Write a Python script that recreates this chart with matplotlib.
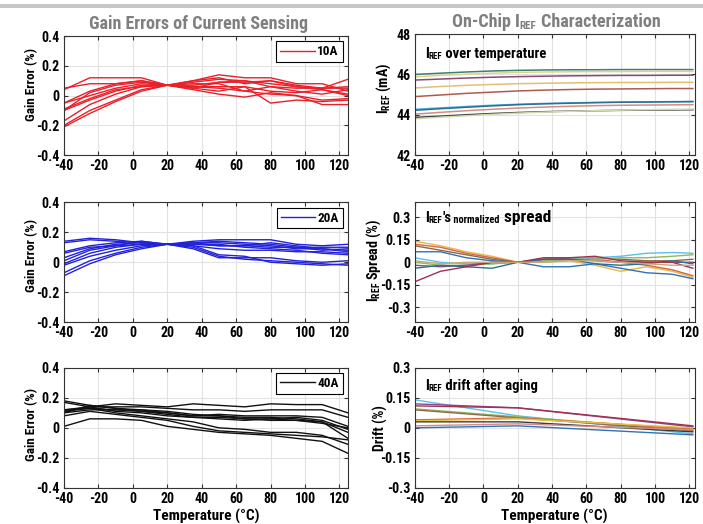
import numpy as np
import matplotlib
matplotlib.use("Agg")
import matplotlib.pyplot as plt
from matplotlib.patches import Rectangle
from matplotlib import font_manager as fm


def pick_font():
    # look for a narrow face first, the reference uses a condensed sans
    for name in ["Liberation Sans Narrow", "Arial Narrow", "Roboto Condensed",
                 "Open Sans Condensed", "Noto Sans Condensed"]:
        try:
            fm.findfont(fm.FontProperties(family=name), fallback_to_default=False)
            return name, "normal", 1.0
        except ValueError:
            pass
    for name in ["DejaVu Sans", "Noto Sans", "Open Sans", "Roboto"]:
        try:
            path = fm.findfont(fm.FontProperties(family=name, stretch="condensed",
                                                 weight="bold"),
                               fallback_to_default=False)
        except ValueError:
            continue
        if "ondensed" in path:
            return name, "condensed", 1.0
    return "Liberation Sans", "normal", 0.86


FONT, STRETCH, SCALE = pick_font()
plt.rcParams["font.family"] = [FONT, "DejaVu Sans"]
plt.rcParams["font.stretch"] = STRETCH
plt.rcParams["font.weight"] = "bold"
plt.rcParams["axes.labelweight"] = "bold"


def fs(size):
    return size * SCALE


#DATA
temp_left = [-40, -25, -10, 5, 20, 35, 50, 65, 80, 95, 110, 125]
temp_right = [-40, -25, -10, 5, 20, 35, 50, 65, 80, 95, 110, 122]
temp_drift = [-40, 20, 122]

gain_10a = [
    [0.04, 0.12, 0.12, 0.12, 0.07, 0.10, 0.14, 0.12, 0.12, 0.08, 0.08, 0.03],
    [0.05, 0.08, 0.08, 0.10, 0.07, 0.09, 0.11, 0.10, 0.08, 0.06, 0.05, 0.05],
    [-0.05, 0.03, 0.08, 0.10, 0.07, 0.07, 0.09, 0.09, 0.10, 0.07, 0.05, 0.11],
    [-0.10, 0.02, 0.07, 0.09, 0.07, 0.05, 0.03, 0.06, 0.03, 0.02, 0.04, 0.01],
    [-0.10, -0.03, 0.03, 0.07, 0.07, 0.04, 0.01, -0.01, 0.02, 0.00, -0.03, -0.02],
    [-0.05, 0.00, 0.05, 0.08, 0.07, 0.06, 0.06, 0.06, -0.05, -0.03, -0.04, -0.03],
    [-0.17, -0.06, 0.01, 0.06, 0.07, 0.08, 0.08, 0.03, 0.01, 0.00, -0.06, -0.06],
    [-0.20, -0.10, -0.03, 0.04, 0.07, 0.10, 0.12, 0.08, 0.10, 0.06, 0.04, 0.00],
    [-0.21, -0.12, -0.04, 0.03, 0.07, 0.05, 0.09, 0.10, 0.06, 0.05, 0.05, 0.06],
    [-0.09, -0.02, 0.04, 0.06, 0.07, 0.06, 0.05, 0.03, 0.06, 0.03, 0.01, 0.04],
]
gain_20a = [
    [0.14, 0.16, 0.15, 0.13, 0.12, 0.14, 0.15, 0.15, 0.15, 0.12, 0.11, 0.12],
    [0.13, 0.15, 0.14, 0.13, 0.12, 0.13, 0.14, 0.13, 0.12, 0.10, 0.10, 0.10],
    [0.07, 0.11, 0.13, 0.14, 0.12, 0.13, 0.11, 0.11, 0.13, 0.11, 0.09, 0.07],
    [0.03, 0.09, 0.12, 0.13, 0.12, 0.12, 0.12, 0.10, 0.09, 0.08, 0.06, 0.05],
    [-0.01, 0.06, 0.10, 0.12, 0.12, 0.11, 0.09, 0.08, 0.08, 0.07, 0.07, 0.06],
    [-0.02, 0.04, 0.08, 0.11, 0.12, 0.10, 0.04, 0.02, 0.01, 0.00, -0.01, -0.02],
    [-0.07, 0.01, 0.06, 0.10, 0.12, 0.09, 0.03, 0.03, 0.03, 0.01, 0.00, 0.01],
    [-0.09, -0.01, 0.05, 0.09, 0.12, 0.11, 0.05, 0.04, 0.00, -0.01, -0.02, -0.01],
    [0.06, 0.10, 0.11, 0.14, 0.12, 0.13, 0.13, 0.12, 0.11, 0.09, 0.09, 0.08],
    [0.01, 0.08, 0.11, 0.12, 0.12, 0.12, 0.11, 0.11, 0.10, 0.10, 0.08, 0.09],
]
gain_40a = [
    [0.11, 0.14, 0.16, 0.15, 0.14, 0.16, 0.15, 0.14, 0.16, 0.155, 0.155, 0.10],
    [0.12, 0.14, 0.14, 0.14, 0.13, 0.12, 0.12, 0.11, 0.12, 0.12, 0.12, 0.07],
    [0.18, 0.15, 0.13, 0.12, 0.10, 0.08, 0.09, 0.08, 0.08, 0.08, 0.07, 0.01],
    [0.17, 0.14, 0.11, 0.10, 0.08, 0.07, 0.07, 0.06, 0.06, 0.07, 0.05, -0.01],
    [0.10, 0.12, 0.12, 0.11, 0.09, 0.07, 0.06, 0.05, 0.06, 0.05, 0.04, -0.03],
    [0.08, 0.11, 0.09, 0.07, 0.05, 0.01, -0.02, -0.03, -0.04, -0.05, -0.06, -0.08],
    [0.01, 0.06, 0.06, 0.05, 0.01, -0.01, -0.03, -0.04, -0.05, -0.07, -0.09, -0.17],
    [0.12, 0.13, 0.10, 0.08, 0.06, 0.04, 0.00, -0.01, -0.03, -0.03, -0.05, -0.11],
    [0.10, 0.15, 0.13, 0.11, 0.10, 0.08, 0.08, 0.07, 0.07, 0.06, 0.04, -0.07],
    [0.11, 0.13, 0.12, 0.12, 0.11, 0.09, 0.08, 0.06, 0.05, 0.05, 0.03, 0.00],
]

iref_ma = [
    [46.00, 46.06, 46.12, 46.17, 46.20, 46.22, 46.23, 46.23, 46.24, 46.24, 46.24, 46.24],
    [45.88, 45.95, 46.01, 46.06, 46.10, 46.12, 46.13, 46.14, 46.14, 46.15, 46.15, 46.15],
    [45.72, 45.77, 45.82, 45.86, 45.89, 45.91, 45.93, 45.94, 45.95, 45.95, 45.96, 45.96],
    [45.33, 45.40, 45.46, 45.50, 45.54, 45.56, 45.58, 45.59, 45.60, 45.60, 45.61, 45.61],
    [44.90, 44.98, 45.06, 45.12, 45.18, 45.22, 45.25, 45.27, 45.28, 45.29, 45.30, 45.30],
    [44.27, 44.34, 44.41, 44.47, 44.52, 44.56, 44.59, 44.61, 44.63, 44.64, 44.65, 44.66],
    [44.22, 44.30, 44.37, 44.44, 44.50, 44.54, 44.57, 44.60, 44.62, 44.63, 44.64, 44.65],
    [44.03, 44.12, 44.20, 44.27, 44.33, 44.38, 44.42, 44.45, 44.47, 44.48, 44.49, 44.50],
    [43.87, 43.93, 44.00, 44.06, 44.11, 44.15, 44.18, 44.20, 44.22, 44.23, 44.24, 44.25],
    [43.80, 43.88, 43.95, 44.02, 44.08, 44.13, 44.17, 44.20, 44.23, 44.25, 44.27, 44.28],
]
iref_colors = ["#3f7f6f", "#d6d690", "#8a4a78", "#e2c070", "#b05a4e",
               "#4db4dc", "#2a6f8f", "#d88a84", "#3c3c3c", "#cfdcae"]

spread_pct = [
    [0.14, 0.11, 0.07, 0.04, 0.0, 0.00, 0.01, -0.02, -0.06, -0.03, -0.06, -0.10],
    [0.12, 0.10, 0.06, 0.03, 0.0, 0.02, 0.03, 0.02, 0.00, -0.02, -0.05, -0.09],
    [0.11, 0.08, 0.05, 0.02, 0.0, 0.01, 0.02, 0.03, 0.02, 0.01, 0.01, 0.02],
    [0.07, 0.07, 0.03, 0.01, 0.0, -0.03, -0.03, -0.01, -0.04, -0.07, -0.08, -0.11],
    [0.03, 0.00, -0.01, -0.01, 0.0, 0.01, 0.02, 0.03, 0.04, 0.06, 0.065, 0.06],
    [0.00, -0.02, -0.02, -0.01, 0.0, 0.01, 0.02, 0.02, 0.03, 0.03, 0.04, 0.05],
    [-0.02, -0.03, -0.02, 0.00, 0.0, 0.02, 0.02, 0.01, 0.00, 0.00, 0.00, 0.00],
    [-0.04, -0.02, -0.03, -0.04, 0.0, 0.02, 0.02, -0.01, -0.02, -0.01, 0.01, -0.01],
    [-0.13, -0.06, -0.03, 0.00, 0.0, 0.03, 0.03, 0.04, 0.01, 0.00, 0.00, -0.04],
    [0.01, -0.01, 0.00, 0.00, 0.0, 0.00, 0.01, 0.01, 0.00, -0.01, -0.02, -0.02],
]
spread_colors = ["#e8b84a", "#d9663a", "#8c6a48", "#2f72b8", "#5cc0e8",
                 "#8fb860", "#8a4a90", "#2a6f8f", "#a23050", "#c8a878"]

drift_pct = [
    [0.14, 0.06, -0.03],
    [0.12, 0.10, 0.005],
    [0.11, 0.10, 0.01],
    [0.095, 0.055, -0.01],
    [0.09, 0.05, -0.015],
    [0.04, 0.05, -0.005],
    [0.035, 0.045, 0.0],
    [0.03, 0.03, -0.02],
    [0.01, 0.02, -0.01],
    [0.0, 0.01, -0.035],
]
drift_colors = ["#5cc0e8", "#8a4a90", "#a23050", "#8fb860", "#8c6a48",
                "#d9663a", "#e8c040", "#3c3c3c", "#d88a84", "#2f72b8"]

x_ticks = [-40, -20, 0, 20, 40, 60, 80, 100, 120]
gain_ticks = [-0.4, -0.2, 0, 0.2, 0.4]
gain_labels = ["-0.4", "-0.2", "0", "0.2", "0.4"]

#FUNCTIONS
def style_axes(ax, xmax):
    ax.set_xlim(-40, xmax)
    ax.set_xticks(x_ticks)
    ax.set_xticklabels([str(t) for t in x_ticks])
    ax.grid(True, color="#e2e2e2", linewidth=0.8)
    ax.set_axisbelow(True)
    ax.tick_params(direction="in", top=True, right=True, length=3,
                   labelsize=fs(10), color="#333333", pad=3)
    for sp in ax.spines.values():
        sp.set_color("#333333")
        sp.set_linewidth(0.8)


def chain_text(ax, x, y, pieces, color="black", transform=None):
    first_s, first_size = pieces[0]
    prev = ax.text(x, y, first_s, transform=transform or ax.transAxes,
                   fontsize=fs(first_size), fontweight="bold", ha="left",
                   va="bottom", color=color)
    for s, size in pieces[1:]:
        prev = ax.annotate(s, xy=(1, 0), xycoords=prev, fontsize=fs(size),
                           fontweight="bold", ha="left", va="bottom",
                           color=color, annotation_clip=False)
    return prev


def gain_panel(ax, data, color, label, label_y):
    for i, row in enumerate(data):
        ax.plot(temp_left, row, color=color, linewidth=1.0,
                label=label if i == 0 else None)
    style_axes(ax, 125)
    ax.set_ylim(-0.4, 0.4)
    ax.set_yticks(gain_ticks)
    ax.set_yticklabels(gain_labels)
    ax.set_ylabel("Gain Error (%)", fontsize=fs(9.5))
    ax.yaxis.set_label_coords(-0.092, label_y)
    leg = ax.legend(loc="upper right", fancybox=False, framealpha=1,
                    edgecolor="black", fontsize=fs(9.5), handlelength=2.6,
                    handletextpad=0.2, borderaxespad=0.4, borderpad=0.3)
    leg.get_frame().set_linewidth(0.8)


#MAIN
fig = plt.figure(figsize=(7.03, 5.24), dpi=100)

fig.add_artist(Rectangle((0, 1 - 8 / 524), 1, 4 / 524, transform=fig.transFigure,
                         color="#c6c6c6", linewidth=0))

lx, lw = 0.091, 0.404
rx, rw = 0.590, 0.398
rows = [(0.704, 0.227), (0.385, 0.229), (0.069, 0.229)]

ax1 = fig.add_axes([lx, rows[0][0], lw, rows[0][1]])
ax2 = fig.add_axes([lx, rows[1][0], lw, rows[1][1]])
ax3 = fig.add_axes([lx, rows[2][0], lw, rows[2][1]])
ax4 = fig.add_axes([rx, rows[0][0], rw, 0.231])
ax5 = fig.add_axes([rx, rows[1][0], rw, rows[1][1]])
ax6 = fig.add_axes([rx, rows[2][0], rw, rows[2][1]])

gain_panel(ax1, gain_10a, "#e8202a", "10A", 0.59)
gain_panel(ax2, gain_20a, "#2222d8", "20A", 0.56)
gain_panel(ax3, gain_40a, "#111111", "40A", 0.53)
ax3.set_xlabel("Temperature (°C)", fontsize=fs(11), labelpad=2)

for row, c in zip(iref_ma, iref_colors):
    ax4.plot(temp_right, row, color=c, linewidth=1.1)
style_axes(ax4, 123)
ax4.set_ylim(42, 48)
ax4.set_yticks([42, 44, 46, 48])
ax4.set_ylabel(r"I$_{\mathregular{REF}}$ (mA)", fontsize=fs(10))
ax4.yaxis.set_label_coords(-0.079, 0.55)
chain_text(ax4, 0.036, 0.78, [("I", 10.5), ("REF", 6.5), (" over temperature", 10.5)])

for row, c in zip(spread_pct, spread_colors):
    ax5.plot(temp_right, row, color=c, linewidth=1.0)
style_axes(ax5, 123)
ax5.set_ylim(-0.4, 0.4)
ax5.set_yticks([-0.3, -0.15, 0, 0.15, 0.3])
ax5.set_yticklabels(["-0.3", "-0.15", "0", "0.15", "0.3"])
ax5.set_ylabel(r"I$_{\mathregular{REF}}$ Spread (%)", fontsize=fs(10))
ax5.yaxis.set_label_coords(-0.114, 0.52)
chain_text(ax5, 0.036, 0.81, [("I", 10.5), ("REF", 6.5), ("'s", 10.5),
                              (" normalized", 7.5), (" spread", 12.5)])

for row, c in zip(drift_pct, drift_colors):
    ax6.plot(temp_drift, row, color=c, linewidth=1.0)
style_axes(ax6, 123)
ax6.set_ylim(-0.3, 0.3)
ax6.set_yticks([-0.3, -0.15, 0, 0.15, 0.3])
ax6.set_yticklabels(["-0.3", "-0.15", "0", "0.15", "0.3"])
ax6.set_ylabel("Drift (%)", fontsize=fs(10))
ax6.yaxis.set_label_coords(-0.096, 0.5)
ax6.set_xlabel("Temperature (°C)", fontsize=fs(11), labelpad=2)
chain_text(ax6, 0.036, 0.79, [("I", 10.5), ("REF", 6.5), (" drift after aging", 10.5)])

fig.text(0.283, 1 - 29 / 524, "Gain Errors of Current Sensing", fontsize=fs(13),
         color="#7f7f7f", ha="center", va="baseline")
chain_text(ax4, 452 / 703, 1 - 31 / 524,
           [("On-Chip I", 13), ("REF", 8), (" Characterization", 13)],
           color="#7f7f7f", transform=fig.transFigure)

fig.savefig("out.png", dpi=100)
